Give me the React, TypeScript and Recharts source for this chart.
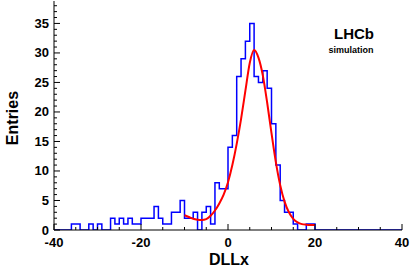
import { Line, LineChart, XAxis, YAxis } from "recharts";

// histogram: 80 bins of width 1 from -40 to 40
const binStart = -40;
const binWidth = 1;
const counts = [
  0, 0, 0, 0, 1, 1, 0, 0, 1, 0, 1, 0, 0, 2, 1, 2, 1, 2, 1, 1,
  2, 2, 2, 4, 2, 1, 1, 3, 3, 5, 2, 2, 3, 0, 3, 4, 1, 8, 7, 7,
  14, 16, 26, 29, 32, 35, 26, 25, 27, 24, 18, 11, 5, 3, 3, 1, 0, 0, 1, 1,
  0, 0, 0, 0, 0, 0, 0, 0, 0, 0, 0, 0, 0, 0, 0, 0, 0, 0, 0, 0,
];

// fitted curve
const fitX = [-10, -9, -8, -7, -6, -5, -4, -3, -2, -1, 0, 1, 2, 3, 4, 5, 6, 7, 8, 9, 10, 11, 12, 13, 14, 15, 16, 17, 18, 19, 20];
const fitY = [2.5, 2.2, 1.9, 1.75, 1.7, 1.85, 2.4, 3.3, 4.5, 6.0, 8.1, 11.0, 14.6, 18.8, 23.6, 28.3, 30.5, 29.2, 26.2, 21.6, 16.4, 11.5, 7.6, 4.8, 3.0, 1.9, 1.3, 1.0, 0.9, 0.85, 0.85];

const xTicks = [-40, -35, -30, -25, -20, -15, -10, -5, 0, 5, 10, 15, 20, 25, 30, 35, 40];
const yTicks = Array.from({ length: 39 }, (_, i) => i);

const histData = counts
  .map((c, i) => ({ x: binStart + i * binWidth, y: c }))
  .concat([{ x: binStart + counts.length * binWidth, y: counts[counts.length - 1] }]);
const fitData = fitX.map((x, i) => ({ x, y: fitY[i] }));

const font = "'Liberation Sans', Arial, Helvetica, sans-serif";

function XTick(props: any) {
  const { x, y, payload } = props;
  const major = payload.value % 20 === 0;
  return (
    <g>
      <line x1={x} x2={x} y1={y} y2={y - (major ? 6 : 3)} stroke="#000" />
      {major && (
        <text x={x} y={y + 16.5} textAnchor="middle" fontSize={13} fontWeight="bold" fontFamily={font} fill="#000">
          {payload.value}
        </text>
      )}
    </g>
  );
}

function YTick(props: any) {
  const { x, y, payload } = props;
  const major = payload.value % 5 === 0;
  return (
    <g>
      <line x1={x} x2={x + (major ? 6 : 3)} y1={y} y2={y} stroke="#000" />
      {major && (
        <text x={x - 5} y={y + 4.5} textAnchor="end" fontSize={13} fontWeight="bold" fontFamily={font} fill="#000">
          {payload.value}
        </text>
      )}
    </g>
  );
}

export default function App() {
  return (
    <div style={{ position: "fixed", left: 0, top: 0, width: 415, height: 271, background: "#fff", fontFamily: font }}>
      <LineChart width={415} height={271} margin={{ top: 1, right: 13, left: 0, bottom: 0 }}>
        <XAxis
          dataKey="x"
          type="number"
          domain={[-40, 40]}
          ticks={xTicks}
          interval={0}
          height={41}
          tickSize={0}
          tickMargin={0}
          tickLine={false}
          tick={<XTick />}
          axisLine={{ stroke: "#000" }}
          allowDataOverflow
        />
        <XAxis xAxisId="top" orientation="top" type="number" domain={[-40, 40]} height={0} tick={false} tickLine={false} axisLine={{ stroke: "#000" }} />
        <YAxis
          type="number"
          domain={[0, 38.8]}
          ticks={yTicks}
          interval={0}
          width={54}
          tickSize={0}
          tickMargin={0}
          tickLine={false}
          tick={<YTick />}
          axisLine={{ stroke: "#000" }}
          allowDataOverflow
        />
        <YAxis yAxisId="right" orientation="right" type="number" domain={[0, 38.8]} width={0} tick={false} tickLine={false} axisLine={{ stroke: "#000" }} />
        <Line data={histData} dataKey="y" type="stepAfter" stroke="#0000ff" strokeWidth={1.5} dot={false} isAnimationActive={false} />
        <Line data={fitData} dataKey="y" type="monotone" stroke="#ff0000" strokeWidth={2} dot={false} isAnimationActive={false} />
      </LineChart>
      <div style={{ position: "absolute", left: 229, top: 251.5, transform: "translateX(-50%)", fontSize: 16, lineHeight: "16px", fontWeight: "bold", whiteSpace: "nowrap" }}>
        DLLx
      </div>
      <div style={{ position: "absolute", left: 13, top: 118, transform: "translate(-50%, -50%) rotate(-90deg)", fontSize: 16, lineHeight: "16px", fontWeight: "bold", whiteSpace: "nowrap" }}>
        Entries
      </div>
      <div style={{ position: "absolute", left: 354, top: 26.3, transform: "translateX(-50%)", fontSize: 15, lineHeight: "15px", fontWeight: "bold", whiteSpace: "nowrap" }}>
        LHCb
      </div>
      <div style={{ position: "absolute", left: 351, top: 46.4, transform: "translateX(-50%)", fontSize: 9, lineHeight: "9px", fontWeight: "bold", whiteSpace: "nowrap" }}>
        simulation
      </div>
    </div>
  );
}
